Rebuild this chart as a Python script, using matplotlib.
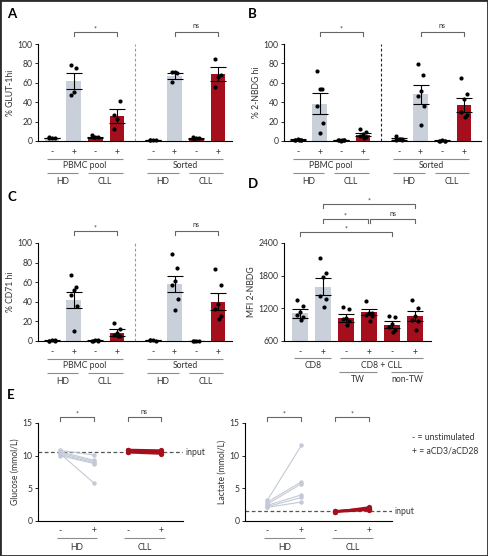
import numpy as np
import matplotlib
matplotlib.use('Agg')
import matplotlib.pyplot as plt
from matplotlib.transforms import blended_transform_factory
from matplotlib.patches import Rectangle

plt.rcParams['font.family'] = ['Lato', 'DejaVu Sans']

W, H = 488, 556
GREY = '#c9d0da'
RED = '#a50f1d'
LINEC = '#8c8c8c'
TXT = '#333333'

## Data
signs8 = ['-', '+', '-', '+', '-', '+', '-', '+']

# A: % GLUT-1hi
a_mean = [3, 62, 4, 26, 1, 67, 3, 69]
a_sem = [0.3, 8, 0.5, 7, 0.2, 3, 0.5, 7]
a_pts = [[3, 3, 3, 4], [78, 75, 51, 47], [4, 4, 4, 6], [27, 41, 23, 12],
         [1, 1, 1, 1], [71, 70, 71, 61], [2, 3, 3, 4], [85, 68, 66, 56]]

# B: % 2-NBDG hi
b_mean = [1.5, 38.5, 1, 6.5, 2, 48, 0.6, 37]
b_sem = [0.2, 10.5, 0.2, 1.5, 0.7, 9.5, 0.1, 7]
b_pts = [[1, 1, 2, 1, 1, 1], [72, 54, 54, 36, 19, 8], [1, 1, 0.5, 1, 1.5, 1],
         [12, 9, 7, 5, 4, 3], [5, 2, 2, 1, 1, 2], [79, 68, 52, 46, 36, 17],
         [0.5, 0.5, 1, 0.5, 0.5], [65, 48, 43, 30, 27, 25]]

# C: % CD71 hi
c_mean = [0.6, 42, 0.6, 8.5, 1, 58, 0.3, 40]
c_sem = [0.1, 8.5, 0.1, 3.5, 0.2, 8.5, 0.1, 8.5]
c_pts = [[0.5, 0.5, 1, 0.5, 1], [67, 55, 52, 47, 36, 10], [0.5, 0.5, 1, 0.5, 1],
         [18, 12, 8, 6, 5, 5], [1, 0.5, 1, 1.5], [89, 74, 61, 57, 43, 32],
         [0.3, 0.5, 0.3, 0.3], [73, 57, 38, 33, 26, 22]]

# D: MFI 2-NBDG
d_mean = [1110, 1600, 1020, 1140, 900, 1060]
d_sem = [80, 160, 70, 55, 65, 100]
d_pts = [[1360, 1240, 1130, 1070, 1040, 980], [2130, 1840, 1780, 1420, 1380, 1230],
         [1220, 1190, 1020, 1000, 960, 900], [1340, 1120, 1110, 1080, 1050, 970],
         [1060, 1040, 920, 860, 800, 760], [1350, 1200, 1060, 990, 960, 800]]

# E: glucose / lactate (mmol/L), paired - / +
glu_hd_pre = [10.8, 10.6, 10.4, 10.2, 10.0, 10.3]
glu_hd_post = [10.1, 9.3, 9.1, 8.9, 8.8, 5.8]
glu_cll_pre = [10.9, 10.8, 10.6, 10.5]
glu_cll_post = [10.8, 10.6, 10.5, 10.3]
glu_input = 10.5
lac_hd_pre = [3.2, 2.9, 2.6, 2.4, 2.2, 2.1]
lac_hd_post = [11.6, 6.0, 5.7, 4.0, 3.6, 2.9]
lac_cll_pre = [1.4, 1.5, 1.4, 1.5]
lac_cll_post = [1.7, 1.9, 2.1, 1.8]
lac_input = 1.5

fig = plt.figure(figsize=(W / 100, H / 100), dpi=100)
fig.patches.append(Rectangle((0, 0), 1, 1, transform=fig.transFigure,
                             fill=False, edgecolor='#2b2b2b', lw=2.0))


def fy(y):
    return 1 - y / H


def mkax(x0, x1, ytop, ybot):
    ax = fig.add_axes([x0 / W, 1 - ybot / H, (x1 - x0) / W, (ybot - ytop) / H])
    for s in ['top', 'right']:
        ax.spines[s].set_visible(False)
    for s in ['left', 'bottom']:
        ax.spines[s].set_linewidth(0.8)
    ax.tick_params(axis='y', labelsize=6.2, length=2.5, width=0.6, pad=1.5, labelcolor=TXT)
    ax.set_xticks([])
    return ax


def txt(ax, x, ypix, s, size=6.2, **kw):
    tr = blended_transform_factory(ax.transData, fig.transFigure)
    ax.text(x, fy(ypix), s, transform=tr, ha='center', va='center',
            fontsize=size, color=TXT, clip_on=False, **kw)


def hl(ax, x0, x1, ypix, color=LINEC):
    tr = blended_transform_factory(ax.transData, fig.transFigure)
    ax.plot([x0, x1], [fy(ypix)] * 2, transform=tr, color=color, lw=0.8,
            clip_on=False, solid_capstyle='butt')


def bracket(ax, x0, x1, ypix, label, drop=4):
    tr = blended_transform_factory(ax.transData, fig.transFigure)
    ax.plot([x0, x0, x1, x1], [fy(ypix + drop), fy(ypix), fy(ypix), fy(ypix + drop)],
            transform=tr, color='#666666', lw=0.8, clip_on=False)
    if label == '*':
        txt(ax, (x0 + x1) / 2, ypix - 3, label, size=5)
    else:
        txt(ax, (x0 + x1) / 2, ypix - 6, label, size=5)


offs = [-0.12, 0.12, 0.0, -0.14, 0.14, 0.03]


def bars(ax, pos, means, sems, pts, colors):
    ax.bar(pos, means, width=0.68, color=colors, edgecolor='none', zorder=1)
    ax.errorbar(pos, means, yerr=sems, fmt='none', ecolor='black', elinewidth=0.8,
                capsize=5.5, capthick=0.8, zorder=3)
    for p, vals in zip(pos, pts):
        xs = [p + offs[i % len(offs)] for i in range(len(vals))]
        ax.plot(xs, vals, 'o', color='black', ms=3.0, mec='none', zorder=4, clip_on=False)


pos8 = [0, 1, 2, 3, 4.65, 5.65, 6.65, 7.65]
col8 = [GREY, GREY, RED, RED, GREY, GREY, RED, RED]


def pct_panel(x0, x1, ytop, ybot, means, sems, pts, ylabel, dash_color, sig):
    ax = mkax(x0, x1, ytop, ybot)
    ax.set_xlim(-0.645, -0.645 + (x1 - x0) / 21.7)
    ax.set_ylim(0, 100)
    ax.set_yticks([0, 20, 40, 60, 80, 100])
    ax.set_ylabel(ylabel, fontsize=6.2, color=TXT, labelpad=2)
    bars(ax, pos8, means, sems, pts, col8)
    tr = blended_transform_factory(ax.transData, ax.transAxes)
    ax.plot([3.83, 3.83], [0, 1], transform=tr, color=dash_color, lw=0.8,
            ls=(0, (2.5, 2)), clip_on=False)
    for p, s in zip(pos8, signs8):
        txt(ax, p, ybot + 11, s)
    hl(ax, -0.25, 3.25, ybot + 18)
    txt(ax, 1.5, ybot + 25, 'PBMC pool')
    hl(ax, 4.4, 7.9, ybot + 18)
    txt(ax, 6.15, ybot + 25, 'Sorted')
    for a, b, lab in [(-0.25, 1.2, 'HD'), (1.65, 3.25, 'CLL'),
                      (4.4, 5.85, 'HD'), (6.3, 7.9, 'CLL')]:
        hl(ax, a, b, ybot + 32)
        txt(ax, (a + b) / 2, ybot + 41, lab)
    bracket(ax, 1, 3, ytop - 12, sig[0])
    bracket(ax, 5.65, 7.65, ytop - 12, sig[1])
    return ax


pct_panel(38, 232, 44, 141, a_mean, a_sem, a_pts, '% GLUT-1hi', '#999999', ['*', 'ns'])
pct_panel(284, 481, 44, 141, b_mean, b_sem, b_pts, '% 2-NBDG hi', '#222222', ['*', 'ns'])
pct_panel(38, 232, 243, 341, c_mean, c_sem, c_pts, '% CD71 hi', '#999999', ['*', 'ns'])

# D
axd = mkax(284, 431, 243, 341)
pos6 = [0, 1, 2, 3, 4, 5]
axd.set_xlim(-0.7, 5.7)
axd.set_ylim(600, 2400)
axd.set_yticks([600, 1200, 1800, 2400])
axd.set_ylabel('MFI 2-NBDG', fontsize=6.2, color=TXT, labelpad=2)
bars(axd, pos6, d_mean, d_sem, d_pts, [GREY, GREY, RED, RED, RED, RED])
for p, s in zip(pos6, signs8):
    txt(axd, p, 352, s)
hl(axd, -0.25, 1.35, 358)
txt(axd, 0.55, 365, 'CD8')
hl(axd, 1.75, 5.35, 358)
txt(axd, 3.55, 365, 'CD8 + CLL')
hl(axd, 1.7, 3.35, 372)
txt(axd, 2.5, 380, 'TW')
hl(axd, 3.95, 5.35, 372)
txt(axd, 4.65, 380, 'non-TW')
bracket(axd, 1, 5, 204, '*')
bracket(axd, 1, 2.95, 219, '*')
bracket(axd, 3.05, 5, 219, 'ns')
bracket(axd, 0, 4, 232, '*')


# E
def pair_panel(x0, x1, step, pre_hd, post_hd, pre_cll, post_cll, inp, ylabel, sig):
    ax = mkax(x0, x1, 423, 521)
    ax.set_xlim(-0.66, -0.66 + (x1 - x0) / step)
    ax.set_ylim(0, 15)
    ax.set_yticks([0, 5, 10, 15])
    ax.set_ylabel(ylabel, fontsize=6.2, color=TXT, labelpad=2)
    ax.axhline(inp, color='#555555', lw=0.9, ls=(0, (3, 2)), zorder=1)
    ax.text(1.02, inp, 'input', transform=blended_transform_factory(ax.transAxes, ax.transData),
            fontsize=6.2, color=TXT, va='center', ha='left')
    for a, b in zip(pre_hd, post_hd):
        ax.plot([0, 1], [a, b], '-o', color='#c3cad5', lw=0.8, ms=3.2, mec='none', zorder=2)
    for a, b in zip(pre_cll, post_cll):
        ax.plot([2, 3], [a, b], '-o', color=RED, lw=1.6, ms=3.8, mec='none', zorder=3)
    for p, s in zip([0, 1, 2, 3], ['-', '+', '-', '+']):
        txt(ax, p, 531, s)
    hl(ax, -0.1, 1.1, 538)
    txt(ax, 0.5, 547, 'HD')
    hl(ax, -0.1 + 2, 3.1, 538)
    txt(ax, 2.5, 547, 'CLL')
    bracket(ax, 0, 1, 417, sig[0])
    bracket(ax, 2, 3, 417, sig[1])
    return ax


pair_panel(38, 183, 33.7, glu_hd_pre, glu_hd_post, glu_cll_pre, glu_cll_post,
           glu_input, 'Glucose (mmol/L)', ['*', 'ns'])
pair_panel(245, 392, 34, lac_hd_pre, lac_hd_post, lac_cll_pre, lac_cll_post,
           lac_input, 'Lactate (mmol/L)', ['*', '*'])

fig.text(412 / W, fy(437), '- = unstimulated', fontsize=6.2, color=TXT, va='center', ha='left')
fig.text(412 / W, fy(451), '+ = aCD3/aCD28', fontsize=6.2, color=TXT, va='center', ha='left')

# panel letters
for lab, x, y in [('A', 7, 14), ('B', 248, 14), ('C', 7, 197), ('D', 248, 184), ('E', 7, 395)]:
    fig.text(x / W, fy(y), lab, fontsize=9.5, fontweight='bold', color='black',
             va='center', ha='left')

fig.savefig('out.png', dpi=100)
